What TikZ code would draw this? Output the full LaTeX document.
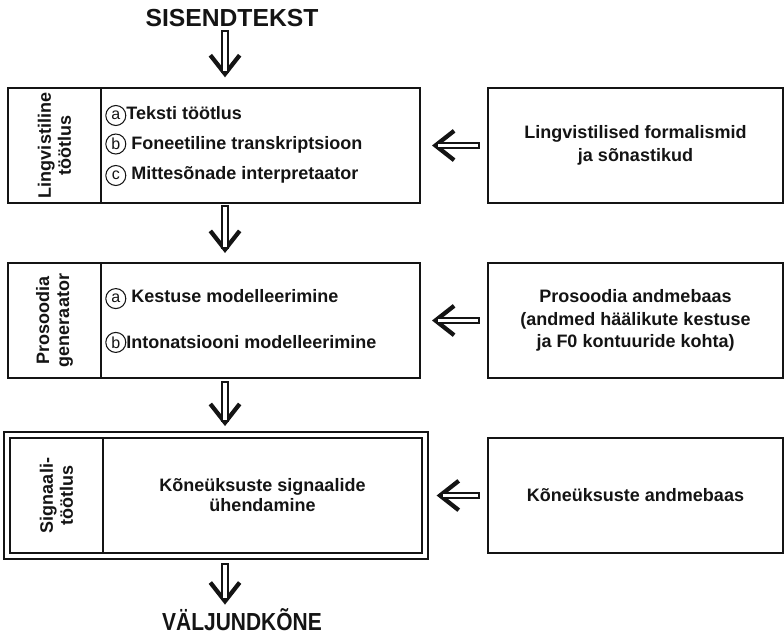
\documentclass[tikz,border=0pt]{standalone}
\usepackage{fontspec}
\setmainfont{Liberation Sans}
\usepackage{tikz}
\usetikzlibrary{arrows.meta, positioning, fit}
\definecolor{mydark}{RGB}{20,20,20}
\newcommand{\circlet}[1]{\tikz[baseline=(ch.base)]\node[circle, draw=mydark,
  line width=0.8pt, inner sep=0pt, minimum size=15pt,
  font=\mdseries\fontsize{12}{12}\selectfont] (ch) {#1};}
\tikzset{
  lablbox/.style={rectangle, draw=mydark, line width=1.7pt, outer sep=0pt,
    minimum width=69.75pt, minimum height=86.25pt},
  bodybox/.style={rectangle, draw=mydark, line width=1.7pt, outer sep=0pt,
    minimum width=239.25pt, minimum height=86.25pt, align=center,
    font=\bfseries\fontsize{13.5}{15}\selectfont, text=mydark},
  srcbox/.style={rectangle, draw=mydark, line width=1.7pt, outer sep=0pt,
    minimum width=221.25pt, minimum height=86.25pt, align=center,
    font=\bfseries\fontsize{13.5}{17}\selectfont, text=mydark},
  labtext/.style={rotate=90, align=center, inner sep=0pt,
    font=\bfseries\fontsize{13.5}{15}\selectfont, text=mydark},
  itemtext/.style={anchor=west, align=left, inner sep=0pt, text=mydark},
  title/.style={font=\bfseries\fontsize{18.5}{20}\selectfont, text=mydark, inner sep=0pt},
  % hollow shaft, barb head drawn underneath
  dblarrow/.style 2 args={draw=mydark, double=white, double distance=2.6pt,
    line width=1.4pt, line cap=rect, shorten <=#1, shorten >=#2+6pt,
    preaction={draw=mydark, line width=0.4pt, line cap=butt,
      shorten <=#1+3pt, shorten >=#2,
      -{Straight Barb[length=14pt, width=22pt, line width=3.2pt]}}}
}
\begin{document}
\begin{tikzpicture}[x=0.75pt, y=-0.75pt]
  \useasboundingbox (0,0) rectangle (784,635);

  \node[title] (inp) at (232,18) {SISENDTEKST};

  % main chain
  \node[lablbox, anchor=north west] (lab1) at (8,88) {};
  \node[bodybox, right=0pt of lab1] (body1) {};
  \node[lablbox, below=45pt of lab1] (lab2) {};
  \node[bodybox, right=0pt of lab2] (body2) {};
  \node[lablbox, below=45pt of lab2, xshift=1.5pt] (lab3) {};
  \node[bodybox, right=0pt of lab3] (body3) {K\~oneüksuste signaalide\\ühendamine};
  \node[draw=mydark, line width=1.5pt, inner sep=4.2pt, fit=(lab3)(body3)] (frame3) {};

  \node[labtext] at (lab1) {Lingvistiline\\töötlus};
  \node[labtext] at (lab2) {Prosoodia\\generaator};
  \node[labtext] at (lab3) {Signaali-\\töötlus};

  \node[itemtext, font=\bfseries\fontsize{13.5}{22.5}\selectfont] (items1)
    at ([xshift=3pt]body1.west)
    {\circlet{a}Teksti töötlus\\ \circlet{b} Foneetiline transkriptsioon\\ \circlet{c} Mittesõnade interpretaator};
  \node[itemtext, font=\bfseries\fontsize{13.5}{34}\selectfont] (items2)
    at ([xshift=3pt]body2.west)
    {\circlet{a} Kestuse modelleerimine\\ \circlet{b}Intonatsiooni modelleerimine};

  % sources
  \node[srcbox, right=51pt of body1] (src1) {Lingvistilised formalismid\\ja sõnastikud};
  \node[srcbox, right=51pt of body2] (src2) {Prosoodia andmebaas\\(andmed häälikute kestuse\\ja F0 kontuuride kohta)};
  \node[srcbox, right=49.5pt of body3] (src3) {K\~oneüksuste andmebaas};

  \node[title] (out) at (242,620) {\scalebox{0.85}[1]{VÄLJUNDK\~ONE}};

  \coordinate (ax) at (225,0);
  \draw[dblarrow={5pt}{8pt}] (ax |- inp.south) -- (ax |- lab1.north);
  \draw[dblarrow={4pt}{7.5pt}] (ax |- lab1.south) -- (ax |- lab2.north);
  \draw[dblarrow={5pt}{4pt}] (ax |- lab2.south) -- (ax |- frame3.north);
  \draw[dblarrow={5pt}{3pt}] (ax |- frame3.south) -- (ax |- out.north);

  \draw[dblarrow={9pt}{9pt}] (src1) -- (body1);
  \draw[dblarrow={9pt}{9pt}] (src2) -- (body2);
  \draw[dblarrow={9pt}{6pt}] (src3) -- (frame3);
\end{tikzpicture}
\end{document}
